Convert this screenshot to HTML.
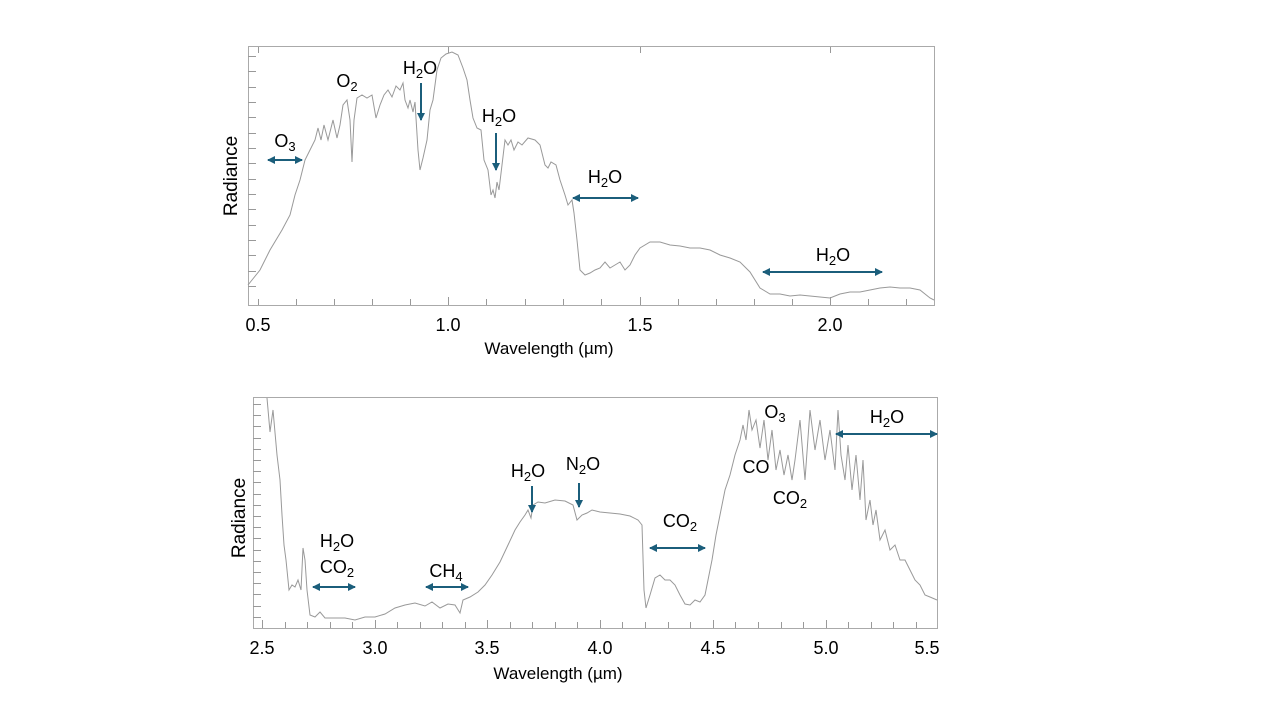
<!DOCTYPE html>
<html><head><meta charset="utf-8"><style>body{margin:0;background:#fff}svg{display:block}text{font-family:"Liberation Sans",sans-serif;fill:#000}</style></head><body>
<svg width="1280" height="720" viewBox="0 0 1280 720">
<defs>
<marker id="ah" markerWidth="8" markerHeight="8" refX="7" refY="4" orient="auto-start-reverse" markerUnits="userSpaceOnUse"><path d="M0,0 L8,4 L0,8 z" fill="#1b5e7b"/></marker>
</defs>
<g stroke="#aaa" fill="none" stroke-width="1">
<rect x="248.5" y="46.5" width="686" height="259"/>
<rect x="253.5" y="397.5" width="684" height="231"/>
</g>
<polyline fill="none" stroke="#999" stroke-width="1" points="248,285 260,270 270,250 282,230 290,215 295,195 300,180 305,160 310,150 315,140 318,128 321,140 324,125 328,140 333,120 337,138 340,125 343,105 347,100 350,120 352,162 354,120 357,98 362,95 367,98 372,95 376,118 380,105 384,95 388,90 392,97 396,86 400,90 403,83 405,100 408,108 410,100 413,112 415,102 418,150 420,170 423,158 427,140 430,110 433,100 437,70 441,58 446,54 452,52 458,55 463,68 467,80 470,100 473,118 477,128 481,130 484,160 488,170 491,195 493,190 495,198 497,182 499,190 502,165 505,140 508,145 511,140 514,150 518,142 522,145 528,138 535,140 540,145 545,165 548,168 551,162 556,165 560,180 565,195 568,205 572,200 574,213 577,240 580,270 585,275 590,273 595,270 600,268 605,262 610,268 615,265 620,262 625,270 630,265 635,255 640,248 650,242 660,242 670,245 680,246 690,248 700,248 710,250 720,255 730,258 740,262 750,272 760,288 770,294 780,294 790,296 800,295 810,296 820,297 830,298 840,294 850,292 860,292 870,290 880,288 890,287 900,288 910,288 920,290 930,298 934,300"/>
<polyline fill="none" stroke="#999" stroke-width="1" points="267,398 270,432 273,410 277,455 280,480 282,515 284,545 286,560 289,590 292,585 295,587 298,580 301,590 303,548 305,560 307,590 310,615 315,617 320,612 325,618 335,618 345,618 355,620 365,617 375,617 385,614 395,608 405,605 415,603 425,606 432,602 440,608 448,604 455,605 460,613 463,600 470,597 478,592 485,585 492,575 500,562 508,545 515,530 520,522 525,515 528,510 531,518 533,505 538,502 545,503 555,500 565,501 573,505 577,520 582,515 587,513 592,510 600,512 610,513 620,514 630,516 638,520 642,525 644,590 646,608 650,595 655,578 660,575 665,580 670,580 675,585 680,595 685,604 690,605 695,600 700,602 705,595 708,580 712,560 716,535 720,515 725,490 730,475 735,455 740,440 743,425 746,440 749,410 752,430 756,420 760,448 764,420 768,460 772,430 776,470 780,450 784,475 788,455 792,480 795,460 800,420 805,480 810,410 815,450 820,420 825,460 830,430 835,470 838,410 841,455 845,480 848,445 852,490 856,455 860,500 863,460 866,520 870,500 873,525 876,510 880,540 885,530 890,550 895,545 900,560 905,560 910,570 915,580 920,585 925,595 930,597 937,600"/>
<g stroke="#1b5e7b" stroke-width="2" marker-start="url(#ah)" marker-end="url(#ah)">
<line x1="268" y1="160" x2="302" y2="160"/>
<line x1="573" y1="198" x2="638" y2="198"/>
<line x1="763" y1="272" x2="882" y2="272"/>
<line x1="313" y1="587" x2="355" y2="587"/>
<line x1="426" y1="587" x2="468" y2="587"/>
<line x1="650" y1="548" x2="705" y2="548"/>
<line x1="836" y1="434" x2="937" y2="434"/>
</g>
<g stroke="#1b5e7b" stroke-width="2" marker-end="url(#ah)">
<line x1="421" y1="83" x2="421" y2="120"/>
<line x1="496" y1="133" x2="496" y2="170"/>
<line x1="532" y1="486" x2="532" y2="512"/>
<line x1="579" y1="483" x2="579" y2="507"/>
</g>
<g font-size="18" text-anchor="middle">
<text x="285" y="147">O<tspan font-size="13" dy="4">3</tspan></text>
<text x="347" y="87">O<tspan font-size="13" dy="4">2</tspan></text>
<text x="420" y="74">H<tspan font-size="13" dy="4">2</tspan><tspan dy="-4">O</tspan></text>
<text x="499" y="122">H<tspan font-size="13" dy="4">2</tspan><tspan dy="-4">O</tspan></text>
<text x="605" y="183">H<tspan font-size="13" dy="4">2</tspan><tspan dy="-4">O</tspan></text>
<text x="833" y="261">H<tspan font-size="13" dy="4">2</tspan><tspan dy="-4">O</tspan></text>
<text x="337" y="547">H<tspan font-size="13" dy="4">2</tspan><tspan dy="-4">O</tspan></text>
<text x="337" y="573">CO<tspan font-size="13" dy="4">2</tspan></text>
<text x="446" y="577">CH<tspan font-size="13" dy="4">4</tspan></text>
<text x="528" y="477">H<tspan font-size="13" dy="4">2</tspan><tspan dy="-4">O</tspan></text>
<text x="583" y="470">N<tspan font-size="13" dy="4">2</tspan><tspan dy="-4">O</tspan></text>
<text x="680" y="527">CO<tspan font-size="13" dy="4">2</tspan></text>
<text x="775" y="418">O<tspan font-size="13" dy="4">3</tspan></text>
<text x="756" y="473">CO</text>
<text x="790" y="504">CO<tspan font-size="13" dy="4">2</tspan></text>
<text x="887" y="423">H<tspan font-size="13" dy="4">2</tspan><tspan dy="-4">O</tspan></text>
</g>
<g font-size="18" text-anchor="middle">
<text x="258" y="331">0.5</text><text x="448" y="331">1.0</text><text x="640" y="331">1.5</text><text x="830" y="331">2.0</text>
<text x="262" y="654">2.5</text><text x="375" y="654">3.0</text><text x="487" y="654">3.5</text><text x="600" y="654">4.0</text><text x="713" y="654">4.5</text><text x="826" y="654">5.0</text><text x="927" y="654">5.5</text>
</g>
<g font-size="17" text-anchor="middle">
<text x="549" y="354">Wavelength (µm)</text>
<text x="558" y="679">Wavelength (µm)</text>
<text font-size="19" transform="translate(237,176) rotate(-90)">Radiance</text>
<text font-size="19" transform="translate(245,518) rotate(-90)">Radiance</text>
</g>
<g stroke="#999" stroke-width="1">
<path d="M248,56.5h8M248,71.5h8M248,87.5h8M248,102.5h8M248,117.5h8M248,133.5h8M248,148.5h8M248,163.5h8M248,179.5h8M248,194.5h8M248,209.5h8M248,225.5h8M248,240.5h8M248,255.5h8M248,271.5h8M248,286.5h8"/>
<path d="M253,404.5h8M253,415.5h8M253,426.5h8M253,438.5h8M253,449.5h8M253,460.5h8M253,471.5h8M253,482.5h8M253,494.5h8M253,505.5h8M253,516.5h8M253,527.5h8M253,538.5h8M253,550.5h8M253,561.5h8M253,572.5h8M253,583.5h8M253,594.5h8M253,606.5h8M253,617.5h8"/>
<path d="M258.5,305v-6M296.5,305v-6M334.5,305v-6M372.5,305v-6M410.5,305v-6M448.5,305v-8M486.5,305v-6M525.5,305v-6M563.5,305v-6M601.5,305v-6M640.5,305v-8M678.5,305v-6M716.5,305v-6M754.5,305v-6M792.5,305v-6M830.5,305v-8M868.5,305v-6M906.5,305v-6M258.5,47v6M448.5,47v6M640.5,47v6M830.5,47v6"/>
<path d="M262.5,628v-8M285.5,628v-6M307.5,628v-6M330.5,628v-6M352.5,628v-6M375.5,628v-8M397.5,628v-6M420.5,628v-6M442.5,628v-6M465.5,628v-6M487.5,628v-8M510.5,628v-6M532.5,628v-6M555.5,628v-6M577.5,628v-6M600.5,628v-8M622.5,628v-6M645.5,628v-6M668.5,628v-6M690.5,628v-6M713.5,628v-8M735.5,628v-6M758.5,628v-6M781.5,628v-6M803.5,628v-6M826.5,628v-8M848.5,628v-6M871.5,628v-6M893.5,628v-6M916.5,628v-6"/>
</g>
</svg>
</body></html>
